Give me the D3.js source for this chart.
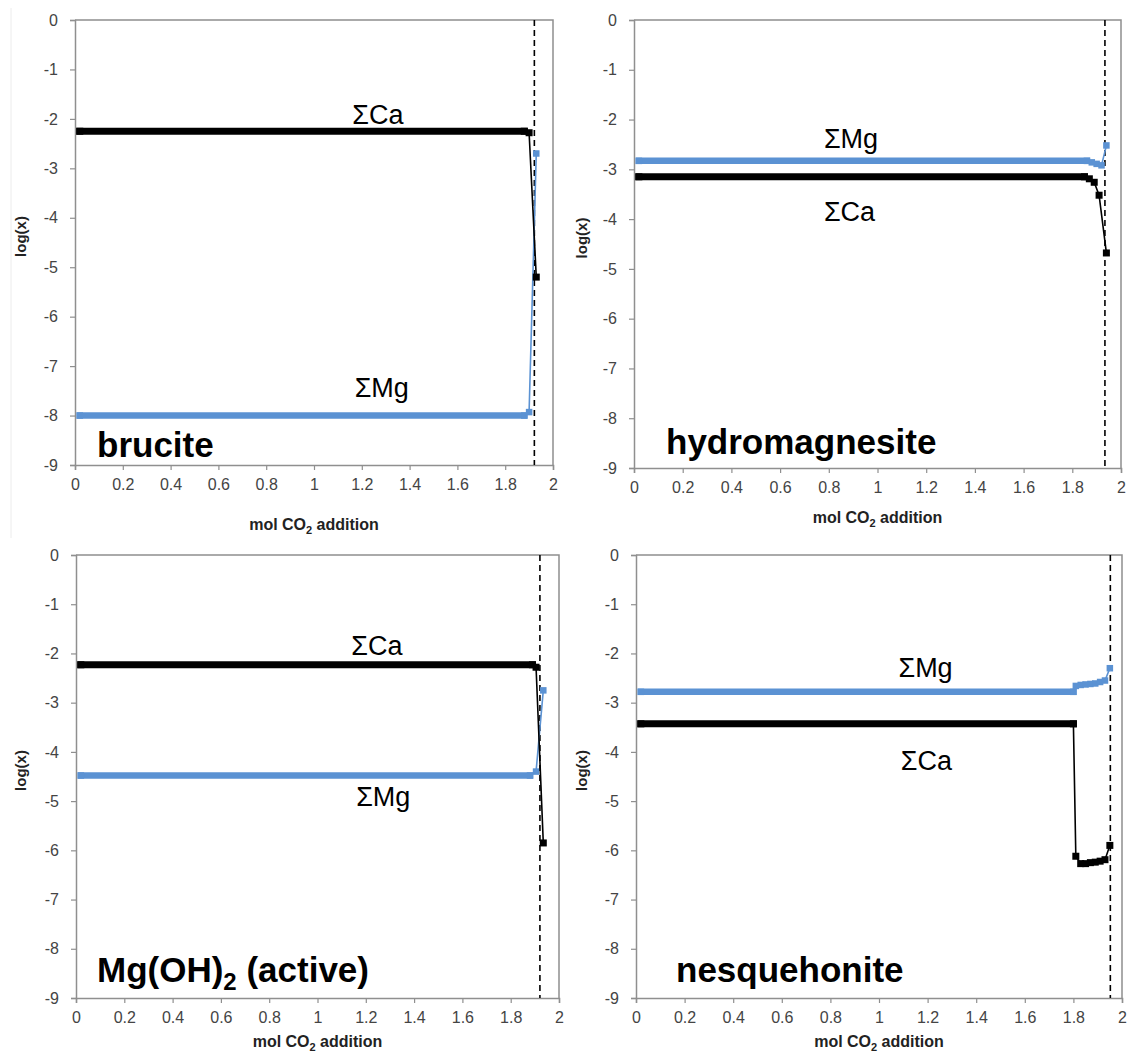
<!DOCTYPE html>
<html>
<head>
<meta charset="utf-8">
<script src="https://cdn.jsdelivr.net/npm/d3@7"></script>
<style>
  body { margin: 0; background: #fff; }
  svg { display: block; }
  text { font-family: "Liberation Sans", Arial, Helvetica, sans-serif; }
</style>
</head>
<body>
<svg id="chart" width="1130" height="1061"></svg>
<script>
// Axis ticks shared by all four panels
const xTicks = [0, 0.2, 0.4, 0.6, 0.8, 1, 1.2, 1.4, 1.6, 1.8, 2];
const yTicks = [0, -1, -2, -3, -4, -5, -6, -7, -8, -9];

// log total dissolved Ca and Mg vs. mol CO2 added, one pair per mineral
const bruciteCa  = [[0.02, -2.25], [1.88, -2.25], [1.90, -2.28], [1.93, -5.2]];
const bruciteMg  = [[0.02, -8.0], [1.88, -8.0], [1.90, -7.93], [1.93, -2.7]];

const hydromagCa = [[0.02, -3.15], [1.85, -3.15], [1.87, -3.19], [1.89, -3.26], [1.91, -3.52], [1.94, -4.68]];
const hydromagMg = [[0.02, -2.83], [1.86, -2.83], [1.88, -2.86], [1.90, -2.89], [1.92, -2.92], [1.94, -2.52]];

const activeCa   = [[0.02, -2.23], [1.89, -2.23], [1.905, -2.28], [1.935, -5.85]];
const activeMg   = [[0.02, -4.48], [1.88, -4.48], [1.905, -4.4], [1.935, -2.75]];

const nesqCa     = [[0.02, -3.43], [1.80, -3.43], [1.81, -6.12], [1.83, -6.27], [1.85, -6.27], [1.87, -6.25],
                    [1.89, -6.24], [1.91, -6.22], [1.93, -6.19], [1.95, -5.9]];
const nesqMg     = [[0.02, -2.78], [1.80, -2.78], [1.81, -2.66], [1.83, -2.64], [1.85, -2.63], [1.87, -2.62],
                    [1.89, -2.61], [1.91, -2.58], [1.93, -2.55], [1.95, -2.3]];

// CO2 amount at which the solid is fully consumed (dashed marker)
const co2Limits = [1.922, 1.934, 1.921, 1.952];

// Panel names (base text, subscript, remainder)
const mineralNames = [["brucite", "", ""], ["hydromagnesite", "", ""], ["Mg(OH)", "2", " (active)"], ["nesquehonite", "", ""]];

// Layout of the four panels
const layout = [
  { box: { l: 75,  r: 553,  t: 20,  b: 465 }, ca: bruciteCa,  mg: bruciteMg,  caLab: [1.16, -2.1],  mgLab: [1.17, -7.63], title: [97, 457],  yLabX: 22,  xTitleY: 530 },
  { box: { l: 634, r: 1121, t: 20,  b: 468 }, ca: hydromagCa, mg: hydromagMg, caLab: [0.78, -4.04], mgLab: [0.78, -2.57], title: [666, 454], yLabX: 583, xTitleY: 523 },
  { box: { l: 76,  r: 559,  t: 555, b: 998 }, ca: activeCa,   mg: activeMg,   caLab: [1.14, -2.03], mgLab: [1.16, -5.1],  title: [97, 982],  yLabX: 22,  xTitleY: 1047 },
  { box: { l: 636, r: 1122, t: 555, b: 998 }, ca: nesqCa,     mg: nesqMg,     caLab: [1.09, -4.36], mgLab: [1.08, -2.47], title: [676, 982], yLabX: 583, xTitleY: 1047 }
];

const CA_COLOR = "#000000";
const MG_COLOR = "#5b92d3";
const AXIS_COLOR = "#8f8f8f";
const MARK = 7;

const svg = d3.select("#chart");
svg.append("rect").attr("width", 1130).attr("height", 1061).attr("fill", "#fff");

// faint edge of the left column
svg.append("line").attr("x1", 11).attr("x2", 11).attr("y1", 8).attr("y2", 538)
  .attr("stroke", "#ececec").attr("stroke-width", 1);

layout.forEach((p, i) => {
  const x = d3.scaleLinear().domain([0, 2]).range([p.box.l, p.box.r]);
  const y = d3.scaleLinear().domain([-9, 0]).range([p.box.b, p.box.t]);
  const g = svg.append("g");

  // frame (top and right edges)
  g.append("path")
    .attr("d", `M${x(0)},${y(0)}H${x(2)}V${y(-9)}`)
    .attr("fill", "none").attr("stroke", AXIS_COLOR).attr("stroke-width", 1.5);

  // x axis
  const xa = g.append("g").attr("transform", `translate(0,${y(-9)})`)
    .call(d3.axisBottom(x).tickValues(xTicks).tickSize(5).tickPadding(9).tickFormat(d => String(d)));
  // y axis
  const ya = g.append("g").attr("transform", `translate(${x(0)},0)`)
    .call(d3.axisLeft(y).tickValues(yTicks).tickSize(5).tickPadding(12).tickFormat(d => String(d)));
  [xa, ya].forEach(a => {
    a.select(".domain").attr("stroke", AXIS_COLOR).attr("stroke-width", 1.5);
    a.selectAll(".tick line").attr("stroke", AXIS_COLOR).attr("stroke-width", 1.2);
    a.selectAll(".tick text").attr("fill", "#444")
      .style("font-size", "16px").style("font-family", "'Liberation Sans', Arial, sans-serif");
  });

  // axis titles
  g.append("text")
    .attr("transform", `translate(${p.yLabX},${(p.box.t + p.box.b) / 2 - 6}) rotate(-90)`)
    .attr("text-anchor", "middle").attr("dominant-baseline", "middle")
    .style("font-size", "15px").style("font-weight", "bold").attr("fill", "#222")
    .text("log(x)");
  const xt = g.append("text")
    .attr("x", (p.box.l + p.box.r) / 2).attr("y", p.xTitleY)
    .attr("text-anchor", "middle")
    .style("font-size", "16px").style("font-weight", "bold").attr("fill", "#222");
  xt.append("tspan").text("mol CO");
  xt.append("tspan").attr("dy", 4).style("font-size", "11px").text("2");
  xt.append("tspan").attr("dy", -4).text(" addition");

  // dashed line at full consumption of the solid
  g.append("line")
    .attr("x1", x(co2Limits[i])).attr("x2", x(co2Limits[i]))
    .attr("y1", y(0)).attr("y2", y(-9))
    .attr("stroke", "#000").attr("stroke-width", 1.6).attr("stroke-dasharray", "6,4");

  // series: dense plateau runs render as a solid band of overlapping markers
  const line = d3.line().x(d => x(d[0])).y(d => y(d[1]));
  [[p.mg, MG_COLOR, 6.5], [p.ca, CA_COLOR, MARK]].forEach(([data, color, size]) => {
    const s = g.append("g");
    s.append("path").attr("d", line(data))
      .attr("fill", "none").attr("stroke", color).attr("stroke-width", 1.6);
    d3.pairs(data).filter(([a, b]) => b[0] - a[0] > 0.1).forEach(([a, b]) => {
      s.append("line")
        .attr("x1", x(a[0]) - size / 2).attr("x2", x(b[0]) + size / 2)
        .attr("y1", y(a[1])).attr("y2", y(b[1]))
        .attr("stroke", color).attr("stroke-width", size);
    });
    s.selectAll("rect").data(data).join("rect")
      .attr("x", d => x(d[0]) - size / 2).attr("y", d => y(d[1]) - size / 2)
      .attr("width", size).attr("height", size).attr("fill", color);
  });

  // series labels
  g.append("text").attr("x", x(p.caLab[0])).attr("y", y(p.caLab[1]))
    .style("font-size", "27px").attr("fill", "#000").text("ΣCa");
  g.append("text").attr("x", x(p.mgLab[0])).attr("y", y(p.mgLab[1]))
    .style("font-size", "27px").attr("fill", "#000").text("ΣMg");

  // mineral name
  const nm = mineralNames[i];
  const tt = g.append("text").attr("x", p.title[0]).attr("y", p.title[1])
    .style("font-size", "35px").style("font-weight", "bold").attr("fill", "#000");
  tt.append("tspan").text(nm[0]);
  if (nm[1]) {
    tt.append("tspan").attr("dy", 8).style("font-size", "24px").text(nm[1]);
    tt.append("tspan").attr("dy", -8).text(nm[2]);
  }
});
</script>
</body>
</html>
